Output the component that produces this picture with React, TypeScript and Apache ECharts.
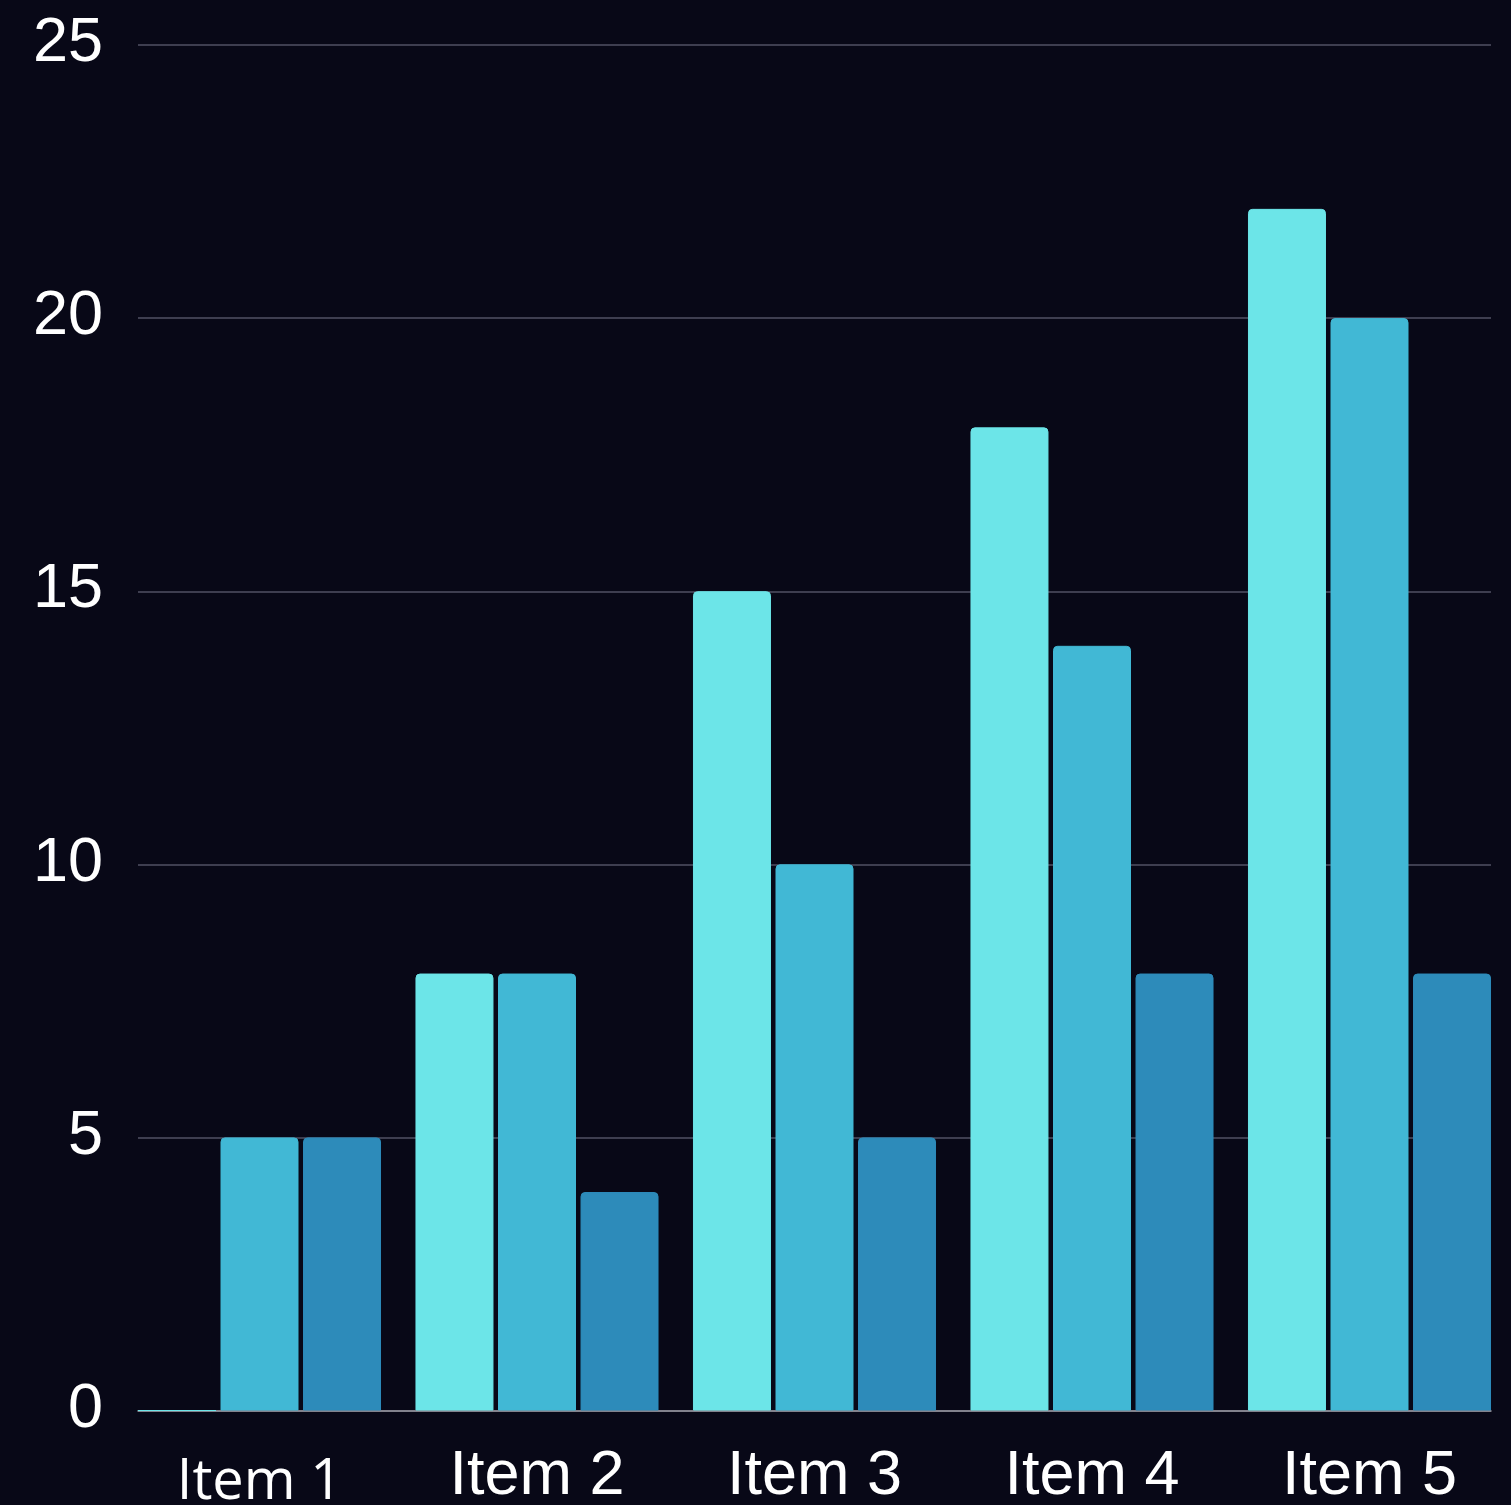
import React, { useEffect, useRef } from "react";
import * as echarts from "echarts";

const categories = ["Item 1", "Item 2", "Item 3", "Item 4", "Item 5"];
const series1 = [0, 8, 15, 18, 22];
const series2 = [5, 8, 10, 14, 20];
const series3 = [5, 4, 5, 8, 8];
const colors = ["#6ce5e8", "#41b8d5", "#2d8bba"];
const yTicks = { min: 0, max: 25, interval: 5 };

export default function App() {
  const ref = useRef<HTMLDivElement>(null);
  useEffect(() => {
    if (!ref.current) return;
    const chart = echarts.init(ref.current, undefined, { renderer: "svg" });
    const mkBar = (name: string, data: number[], color: string) => ({
      name,
      type: "bar",
      xAxisIndex: 1,
      yAxisIndex: 1,
      data,
      barWidth: 78,
      barGap: "5.8%",
      itemStyle: {
        color,
        borderColor: color,
        borderWidth: 1,
        borderRadius: [4, 4, 0, 0],
      },
    });
    chart.setOption({
      animation: false,
      backgroundColor: "#080817",
      textStyle: { fontFamily: "'Liberation Sans', Arial, sans-serif" },
      grid: [
        { left: 138, right: 20, top: 45, bottom: 94 },
        { left: 120.75, right: 2.75, top: 45, bottom: 94 },
      ],
      xAxis: [
        {
          gridIndex: 0,
          type: "value",
          min: 0,
          max: 1,
          axisLine: { show: true, lineStyle: { color: "#9a9aa2", width: 1.5 } },
          axisTick: { show: false },
          axisLabel: { show: false },
          splitLine: { show: false },
        },
        {
          gridIndex: 1,
          type: "category",
          data: categories,
          axisLine: { show: false },
          axisTick: { show: false },
          axisLabel: {
            margin: 30,
            formatter: (v: string, i: number) => (i === 0 ? `{a|${v}}` : `{b|${v}}`),
            rich: {
              a: {
                fontFamily: "'Open Sans', sans-serif",
                fontSize: 56,
                color: "#ffffff",
                lineHeight: 70,
                padding: [3, 0, 0, 0],
              },
              b: {
                fontFamily: "'Liberation Sans', Arial, sans-serif",
                fontSize: 63,
                color: "#ffffff",
                lineHeight: 63,
              },
            },
          },
        },
      ],
      yAxis: [
        {
          gridIndex: 0,
          type: "value",
          min: yTicks.min,
          max: yTicks.max,
          interval: yTicks.interval,
          axisLine: { show: false },
          axisTick: { show: false },
          axisLabel: {
            margin: 35,
            formatter: (v: number) => `{v|${v}}`,
            rich: {
              v: {
                fontSize: 63,
                lineHeight: 63,
                color: "#ffffff",
                padding: [0, 0, 12, 0],
                fontFamily: "'Liberation Sans', Arial, sans-serif",
              },
            },
          },
          splitLine: { show: true, lineStyle: { color: "#505164", width: 1.5 } },
        },
        {
          gridIndex: 1,
          type: "value",
          min: yTicks.min,
          max: yTicks.max,
          interval: yTicks.interval,
          show: false,
          splitLine: { show: false },
        },
      ],
      series: [
        mkBar("Series 1", series1, colors[0]),
        mkBar("Series 2", series2, colors[1]),
        mkBar("Series 3", series3, colors[2]),
      ],
    });
    return () => chart.dispose();
  }, []);
  return (
    <div
      ref={ref}
      style={{ position: "fixed", left: 0, top: 0, width: 1511, height: 1505 }}
    />
  );
}
